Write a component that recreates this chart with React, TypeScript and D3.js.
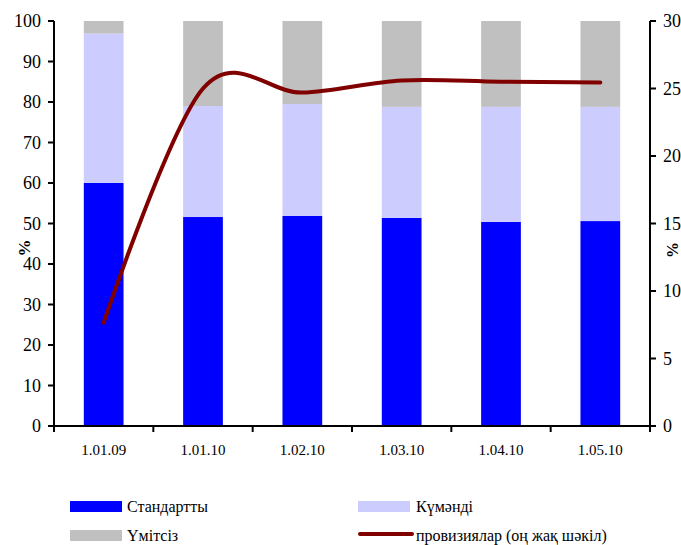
import React from 'react';
import * as d3 from 'd3';

const categories = ['1.01.09', '1.01.10', '1.02.10', '1.03.10', '1.04.10', '1.05.10'];
const standard = [60, 51.6, 51.9, 51.4, 50.4, 50.6];
const doubtful = [36.9, 27.4, 27.6, 27.4, 28.4, 28.2];
const hopeless = [3.1, 21.0, 20.5, 21.2, 21.2, 21.2];
const provisions = [7.65, 25.0, 24.7, 25.6, 25.5, 25.45];
const leftTicks = [0, 10, 20, 30, 40, 50, 60, 70, 80, 90, 100];
const rightTicks = [0, 5, 10, 15, 20, 25, 30];
const seriesNames = ['Стандартты', 'Күмәнді', 'Үмітсіз', 'провизиялар (оң жақ шәкіл)'];

const colors = ['#0000FF', '#CCCCFF', '#C0C0C0'];
const lineColor = '#800000';
const font = "'Liberation Serif'";

export default function App() {
  const left = 54, right = 650, top = 21, bottom = 426;
  const x = d3.scaleBand<string>().domain(categories).range([left, right]).paddingInner(0.6).paddingOuter(0.3);
  const y = d3.scaleLinear().domain([0, 100]).range([bottom, top]);
  const y2 = d3.scaleLinear().domain([0, 30]).range([bottom, top]);
  const bw = x.bandwidth();

  const stacks = categories.map((c, i) => {
    const vals = [standard[i], doubtful[i], hopeless[i]];
    let acc = 0;
    return vals.map((v, k) => {
      const y0 = acc;
      acc += v;
      return { c, k, y0, y1: acc };
    });
  });

  const line = d3.line<number>()
    .x((_, i) => (x(categories[i]) as number) + bw / 2)
    .y((d) => y2(d))
    .curve(d3.curveCardinal.tension(0));

  const boundaries = d3.range(categories.length + 1).map((i) => left + (i * (right - left)) / categories.length);
  const ts = { fontFamily: font };

  return (
    <svg width={681} height={545} style={{ position: 'absolute', left: 0, top: 0, background: '#fff' }}>
      {stacks.map((s) =>
        s.map((seg) => (
          <rect key={seg.c + seg.k} x={x(seg.c)} y={y(seg.y1)} width={bw} height={y(seg.y0) - y(seg.y1)} fill={colors[seg.k]} />
        ))
      )}
      {/* left axis */}
      <line x1={left} x2={left} y1={top} y2={bottom} stroke="#000" strokeWidth={2} />
      {leftTicks.map((t) => (
        <g key={'l' + t}>
          <line x1={left - 6} x2={left} y1={y(t)} y2={y(t)} stroke="#000" strokeWidth={2} />
          <text style={ts} x={41} y={y(t)} dy="0.35em" textAnchor="end" fontSize={18}>{t}</text>
        </g>
      ))}
      {/* right axis */}
      <line x1={right} x2={right} y1={top} y2={bottom} stroke="#000" strokeWidth={2} />
      {rightTicks.map((t) => (
        <g key={'r' + t}>
          <line x1={right} x2={right + 6} y1={y2(t)} y2={y2(t)} stroke="#000" strokeWidth={2} />
          <text style={ts} x={663} y={y2(t)} dy="0.35em" textAnchor="start" fontSize={18}>{t}</text>
        </g>
      ))}
      {/* x axis */}
      <line x1={left} x2={right} y1={bottom} y2={bottom} stroke="#000" strokeWidth={2} />
      {boundaries.map((b, i) => (
        <line key={'b' + i} x1={b} x2={b} y1={bottom} y2={bottom + 6} stroke="#000" strokeWidth={2} />
      ))}
      {categories.map((c) => (
        <text style={ts} key={'x' + c} x={(x(c) as number) + bw / 2} y={455} textAnchor="middle" fontSize={15}>{c}</text>
      ))}
      {/* axis titles */}
      <text style={ts} transform="translate(30,248) rotate(-90)" textAnchor="middle" fontSize={17} fontWeight="bold">%</text>
      <text style={ts} transform="translate(678,250) rotate(-90)" textAnchor="middle" fontSize={16} fontWeight="bold">%</text>
      {/* line */}
      <path d={line(provisions) || ''} fill="none" stroke={lineColor} strokeWidth={4} strokeLinecap="round" strokeLinejoin="round" />
      {/* legend */}
      <rect x={70} y={501} width={52} height={11} fill={colors[0]} />
      <text style={ts} x={127} y={506} dy="0.35em" fontSize={16}>{seriesNames[0]}</text>
      <rect x={358} y={501} width={52} height={11} fill={colors[1]} />
      <text style={ts} x={416} y={506} dy="0.35em" fontSize={16}>{seriesNames[1]}</text>
      <rect x={70} y={530} width={52} height={11} fill={colors[2]} />
      <text style={ts} x={127} y={535} dy="0.35em" fontSize={16}>{seriesNames[2]}</text>
      <line x1={360} x2={412} y1={534} y2={534} stroke={lineColor} strokeWidth={4} strokeLinecap="round" />
      <text style={ts} x={416} y={535} dy="0.35em" fontSize={16}>{seriesNames[3]}</text>
    </svg>
  );
}
